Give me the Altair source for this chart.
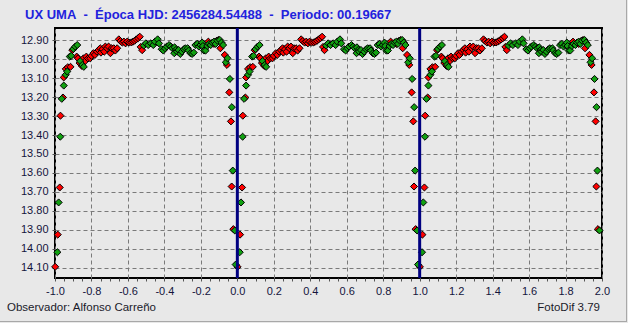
import altair as alt
import pandas as pd

# ---- data (one cycle, phase 0..1) ----
red_phase = [0.001, 0.015, 0.978, 0.026, 0.969, 0.030, 0.044, 0.048, 0.059, 0.070,
             0.085, 0.095, 0.102, 0.119, 0.126, 0.135, 0.144, 0.147, 0.156, 0.163,
             0.172, 0.181, 0.193, 0.200, 0.211, 0.219, 0.230, 0.239, 0.248, 0.252,
             0.261, 0.270, 0.276, 0.285, 0.294, 0.304, 0.311, 0.322, 0.331, 0.341,
             0.350, 0.359, 0.369, 0.378, 0.387, 0.396, 0.407, 0.419, 0.428, 0.437,
             0.446, 0.456, 0.465, 0.470, 0.478, 0.841, 0.872, 0.887, 0.896, 0.907,
             0.931, 0.943, 0.956, 0.965]
red_mag = [14.096, 13.926, 13.897, 13.677, 13.672, 13.298, 13.202, 13.096, 13.051, 13.042,
           13.040, 12.952, 12.945, 12.986, 12.995, 13.020, 13.007, 13.035, 12.995, 13.012,
           12.986, 12.996, 12.995, 12.982, 12.968, 12.977, 12.960, 12.951, 12.942, 12.965,
           12.947, 12.960, 12.933, 12.942, 12.933, 12.968, 12.942, 12.942, 12.954, 12.942,
           12.895, 12.904, 12.912, 12.907, 12.916, 12.907, 12.912, 12.911, 12.907, 12.902,
           12.895, 12.889, 12.881, 12.935, 12.952, 12.907, 12.919, 12.902, 12.898, 12.942,
           12.977, 13.030, 13.175, 13.328]

green_phase = [0.991, 0.013, 0.986, 0.020, 0.975, 0.029, 0.037, 0.048, 0.059, 0.067,
               0.081, 0.089, 0.100, 0.111, 0.122, 0.138, 0.150, 0.158, 0.487, 0.498,
               0.511, 0.526, 0.539, 0.548, 0.563, 0.570, 0.585, 0.594, 0.604, 0.613,
               0.626, 0.635, 0.644, 0.656, 0.663, 0.654, 0.669, 0.678, 0.687, 0.696,
               0.706, 0.715, 0.728, 0.733, 0.743, 0.752, 0.761, 0.770, 0.780, 0.789,
               0.798, 0.807, 0.811, 0.817, 0.826, 0.835, 0.844, 0.854, 0.863, 0.872,
               0.881, 0.891, 0.904, 0.913, 0.922, 0.937, 0.946, 0.959, 0.970]
green_mag = [14.084, 14.019, 13.904, 13.756, 13.588, 13.409, 13.209, 13.139, 13.082, 13.065,
             12.986, 12.982, 12.946, 12.933, 12.925, 13.010, 13.030, 13.040, 12.928, 12.916,
             12.925, 12.916, 12.925, 12.907, 12.895, 12.916, 12.947, 12.954, 12.942, 12.933,
             12.925, 12.933, 12.942, 12.937, 12.951, 12.968, 12.960, 12.951, 12.972, 12.960,
             12.947, 12.942, 12.942, 12.954, 12.968, 12.972, 12.965, 12.925, 12.919, 12.933,
             12.925, 12.912, 12.930, 12.954, 12.954, 12.930, 12.919, 12.925, 12.912, 12.907,
             12.919, 12.902, 12.898, 12.912, 12.925, 13.016, 12.995, 13.104, 13.253]

cycle_offsets = [-1, 0, 1]
x_window = [-1.012, 1.989]
epoch_lines = [0.0, 1.0]
x_ticks = [round(-1 + 0.05 * i, 2) for i in range(61)]
y_ticks = [12.90, 13.00, 13.10, 13.20, 13.30, 13.40, 13.50, 13.60, 13.70, 13.80, 13.90, 14.00, 14.10]

title_text = "UX UMA\u00a0\u00a0-\u00a0\u00a0Época HJD: 2456284.54488\u00a0\u00a0-\u00a0\u00a0Periodo: 00.19667"
footer_left = "Observador: Alfonso Carreño"
footer_right = "FotoDif 3.79"


def fold(phases, mags):
    rows = []
    for p, m in zip(phases, mags):
        for k in cycle_offsets:
            x = p + k
            if x_window[0] <= x <= x_window[1]:
                rows.append({"x": x, "mag": m})
    return pd.DataFrame(rows)


red_df = fold(red_phase, red_mag)
green_df = fold(green_phase, green_mag)

LABEL_COLOR = "#14143c"
FONT = "Liberation Sans"

x_scale = alt.Scale(domain=[-1, 2], nice=False, zero=False)
y_scale = alt.Scale(domain=[12.835, 14.155], reverse=True, nice=False, zero=False)

major_test = "abs(datum.value*5 - round(datum.value*5)) < 0.001"

x_axis = alt.Axis(
    values=x_ticks,
    labelExpr=f"({major_test}) ? replace(format(datum.value, '.1f'), '\u2212', '-') : ''",
    title=None,
    domain=False,
    grid=True,
    gridOpacity={"condition": {"test": major_test, "value": 1}, "value": 0},
    gridColor="#7a7a7a",
    gridDash=[4, 3],
    gridWidth=1,
    tickSize=3,
    tickColor="#555555",
    labelPadding=4,
    labelFont=FONT,
    labelFontSize=11,
    labelColor=LABEL_COLOR,
    labelFlush=False,
    labelOverlap=False,
    labelBound=False,
)

y_axis = alt.Axis(
    values=y_ticks,
    format=".2f",
    title=None,
    domain=False,
    grid=True,
    gridColor="#7a7a7a",
    gridDash=[4, 3],
    gridWidth=1,
    tickSize=3,
    tickColor="#555555",
    labelPadding=4,
    labelFont=FONT,
    labelFontSize=11,
    labelColor=LABEL_COLOR,
    labelFlush=False,
    labelOverlap=False,
    labelBound=False,
)

red_layer = alt.Chart(red_df).mark_point(
    shape="diamond", filled=True, size=50, fill="#ff0000", stroke="#000000", strokeWidth=1, opacity=1
).encode(
    x=alt.X("x:Q", scale=x_scale, axis=x_axis),
    y=alt.Y("mag:Q", scale=y_scale, axis=y_axis),
)

green_layer = alt.Chart(green_df).mark_point(
    shape="diamond", filled=True, size=50, fill="#11a011", stroke="#000000", strokeWidth=1, opacity=1
).encode(
    x=alt.X("x:Q", scale=x_scale, axis=x_axis),
    y=alt.Y("mag:Q", scale=y_scale, axis=y_axis),
)

vlines = alt.Chart(pd.DataFrame({"x": epoch_lines})).mark_rule(
    color="#000080", strokeWidth=3
).encode(x=alt.X("x:Q", scale=x_scale, axis=x_axis))

title_mark = alt.Chart(pd.DataFrame({"t": [title_text]})).mark_text(
    align="left", baseline="alphabetic", font=FONT, fontSize=13, fontWeight="bold", color="#2222dd"
).encode(x=alt.value(-30), y=alt.value(-9), text="t:N")

foot_l = alt.Chart(pd.DataFrame({"t": [footer_left]})).mark_text(
    align="left", baseline="middle", font=FONT, fontSize=11.5, color="#1a1a2a"
).encode(x=alt.value(-48), y=alt.value(280), text="t:N")

foot_r = alt.Chart(pd.DataFrame({"t": [footer_right]})).mark_text(
    align="right", baseline="middle", font=FONT, fontSize=11.5, color="#1a1a2a"
).encode(x=alt.value(545), y=alt.value(280), text="t:N")

border_b = alt.Chart(pd.DataFrame({"a": [0]})).mark_rule(color="#a8a8a8", strokeWidth=1).encode(
    x=alt.value(-55), x2=alt.value(572), y=alt.value(293.5)
)
border_r = alt.Chart(pd.DataFrame({"a": [0]})).mark_rule(color="#a8a8a8", strokeWidth=1).encode(
    x=alt.value(571.5), y=alt.value(-28), y2=alt.value(294)
)

chart = alt.layer(red_layer, green_layer, vlines, title_mark, foot_l, foot_r, border_b, border_r).properties(
    width=547,
    height=250,
    autosize=alt.AutoSizeParams(type="none"),
    padding={"left": 55, "top": 28, "right": 26, "bottom": 45},
    background="#e8e8e8",
).configure_axis(
    labelOverlap=False,
).configure_view(
    fill="#e8e8e8",
    stroke="#000000",
    strokeWidth=2,
)

chart.save("out.html", embed_options={"renderer": "svg", "actions": False})
